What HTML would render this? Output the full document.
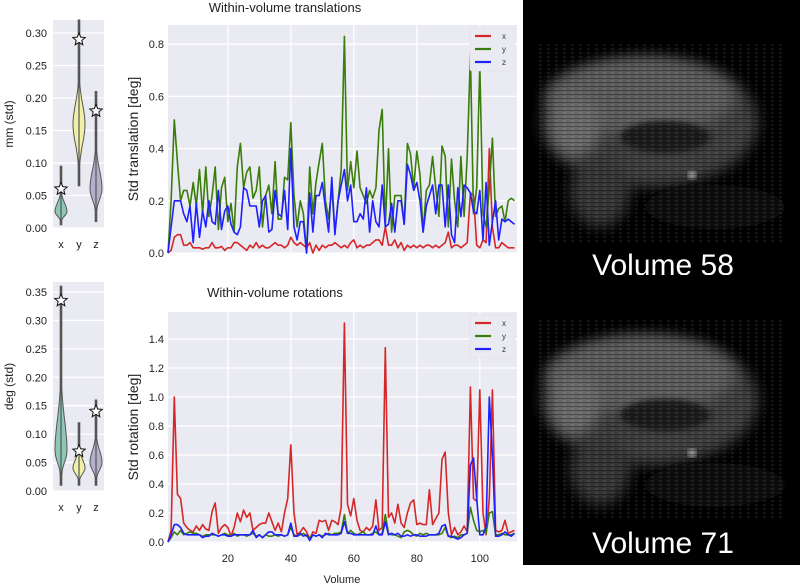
<!DOCTYPE html>
<html><head><meta charset="utf-8"><style>
body{margin:0;background:#fff;font-family:"Liberation Sans",sans-serif}
svg{display:block}
text{font-family:"Liberation Sans",sans-serif}
</style></head><body>
<svg id="fig" width="802" height="586" viewBox="0 0 802 586" xmlns="http://www.w3.org/2000/svg">
<defs>
<filter id="bl" x="-20%" y="-20%" width="140%" height="140%"><feGaussianBlur stdDeviation="7"/></filter>
<filter id="bl2"><feGaussianBlur stdDeviation="3"/></filter>
<pattern id="scan" width="8" height="4" patternUnits="userSpaceOnUse"><rect y="2" width="8" height="1" fill="#000" opacity="0.3"/><rect x="3" width="3" height="2" fill="#fff" opacity="0.08"/></pattern>
</defs>
<g id="root"></g>
</svg>
<script>
// ---- data ----
const volumes = Array.from({length:111},(_,i)=>i+1);
const transX = [0.0,0.01,0.06,0.07,0.07,0.03,0.03,0.04,0.02,0.02,
0.02,0.015,0.02,0.02,0.04,0.02,0.02,0.025,0.01,0.02,
0.02,0.04,0.04,0.03,0.02,0.01,0.03,0.02,0.04,0.02,
0.03,0.02,0.02,0.03,0.04,0.03,0.03,0.02,0.03,0.06,
0.04,0.03,0.04,0.03,0.02,0.04,0.0,0.03,0.01,0.03,
0.02,0.03,0.03,0.04,0.03,0.02,0.03,0.02,0.04,0.05,
0.02,0.03,0.02,0.03,0.03,0.04,0.05,0.05,0.03,0.1,
0.03,0.03,0.05,0.02,0.04,0.01,0.03,0.02,0.03,0.02,
0.03,0.02,0.03,0.03,0.02,0.03,0.02,0.03,0.04,0.08,
0.02,0.03,0.03,0.02,0.03,0.04,0.23,0.22,0.03,0.02,
0.05,0.04,0.4,0.1,0.02,0.02,0.04,0.03,0.02,0.02,0.02];
const transY = [0.0,0.2,0.51,0.35,0.2,0.24,0.24,0.18,0.27,0.18,
0.32,0.15,0.33,0.14,0.22,0.33,0.09,0.25,0.29,0.12,
0.19,0.08,0.33,0.42,0.25,0.31,0.33,0.21,0.24,0.33,
0.1,0.22,0.26,0.15,0.35,0.13,0.13,0.29,0.28,0.5,
0.22,0.1,0.2,0.15,0.0,0.33,0.15,0.27,0.35,0.42,
0.2,0.13,0.25,0.08,0.2,0.32,0.83,0.24,0.35,0.25,
0.39,0.25,0.22,0.19,0.24,0.21,0.25,0.47,0.55,0.1,
0.4,0.08,0.22,0.22,0.22,0.11,0.42,0.38,0.25,0.39,
0.3,0.08,0.24,0.26,0.37,0.25,0.14,0.41,0.37,0.1,
0.36,0.2,0.1,0.37,0.14,0.37,0.76,0.15,0.25,0.72,
0.15,0.1,0.25,0.44,0.14,0.17,0.18,0.12,0.2,0.21,0.2];
const transZ = [0.0,0.1,0.2,0.2,0.2,0.15,0.12,0.18,0.04,0.19,
0.06,0.16,0.1,0.2,0.12,0.11,0.24,0.09,0.16,0.18,
0.11,0.08,0.07,0.1,0.25,0.24,0.18,0.18,0.18,0.1,
0.2,0.22,0.08,0.09,0.24,0.15,0.14,0.24,0.09,0.4,
0.1,0.05,0.12,0.12,0.0,0.23,0.08,0.22,0.22,0.27,
0.17,0.08,0.29,0.07,0.2,0.26,0.32,0.2,0.26,0.12,
0.12,0.15,0.13,0.25,0.08,0.2,0.12,0.1,0.26,0.1,
0.11,0.19,0.08,0.2,0.2,0.11,0.34,0.3,0.24,0.27,
0.2,0.08,0.18,0.22,0.26,0.15,0.26,0.26,0.1,0.26,
0.07,0.04,0.25,0.14,0.26,0.25,0.23,0.16,0.15,0.24,
0.05,0.27,0.03,0.12,0.2,0.05,0.13,0.12,0.13,0.12,0.11];
const rotX = [0.0,0.08,1.0,0.33,0.3,0.13,0.1,0.08,0.07,0.11,
0.08,0.12,0.09,0.08,0.21,0.27,0.06,0.1,0.12,0.1,
0.04,0.1,0.2,0.14,0.22,0.17,0.2,0.08,0.1,0.12,
0.13,0.13,0.2,0.14,0.08,0.13,0.07,0.2,0.3,0.67,
0.2,0.05,0.07,0.1,0.07,0.02,0.07,0.06,0.15,0.14,
0.15,0.08,0.15,0.14,0.12,0.24,1.51,0.26,0.18,0.3,
0.15,0.08,0.07,0.1,0.08,0.11,0.29,0.08,0.1,1.34,
0.17,0.2,0.13,0.26,0.13,0.1,0.2,0.27,0.29,0.12,
0.13,0.12,0.12,0.36,0.12,0.16,0.2,0.57,0.62,0.2,
0.05,0.1,0.05,0.07,0.11,0.07,1.07,0.3,0.28,1.05,
0.2,0.05,0.3,1.05,0.08,0.07,0.08,0.15,0.06,0.07,0.08];
const rotY = [0.0,0.03,0.07,0.05,0.08,0.05,0.06,0.07,0.06,0.06,
0.05,0.04,0.05,0.05,0.05,0.05,0.04,0.05,0.06,0.05,
0.04,0.06,0.04,0.05,0.05,0.04,0.05,0.06,0.04,0.05,
0.03,0.05,0.04,0.04,0.05,0.04,0.05,0.04,0.05,0.1,
0.05,0.04,0.05,0.06,0.04,0.03,0.05,0.04,0.05,0.04,
0.05,0.06,0.05,0.06,0.06,0.07,0.19,0.06,0.08,0.06,
0.05,0.06,0.07,0.05,0.05,0.06,0.07,0.05,0.06,0.19,
0.06,0.05,0.05,0.04,0.03,0.07,0.08,0.07,0.05,0.04,
0.06,0.05,0.06,0.05,0.05,0.05,0.05,0.06,0.1,0.04,
0.03,0.04,0.03,0.05,0.05,0.06,0.24,0.15,0.08,0.07,
0.08,0.06,0.2,0.21,0.05,0.05,0.06,0.05,0.05,0.05,0.06];
const rotZ = [0.0,0.05,0.12,0.12,0.1,0.06,0.05,0.05,0.05,0.05,
0.05,0.03,0.04,0.04,0.06,0.05,0.04,0.05,0.05,0.04,
0.04,0.05,0.05,0.05,0.05,0.05,0.05,0.08,0.03,0.05,
0.03,0.05,0.07,0.07,0.05,0.05,0.05,0.04,0.05,0.13,
0.04,0.04,0.06,0.04,0.05,0.01,0.05,0.04,0.05,0.03,
0.06,0.05,0.05,0.05,0.05,0.06,0.14,0.06,0.06,0.05,
0.05,0.05,0.05,0.05,0.05,0.05,0.11,0.05,0.05,0.14,
0.05,0.06,0.05,0.06,0.04,0.04,0.05,0.04,0.05,0.05,
0.04,0.04,0.04,0.05,0.05,0.05,0.06,0.11,0.12,0.04,
0.04,0.03,0.02,0.03,0.05,0.06,0.53,0.58,0.3,0.05,
0.05,0.11,1.0,0.6,0.04,0.04,0.05,0.07,0.05,0.04,0.06];
const xTicks = [20,40,60,80,100];
const transTicks = [0.0,0.2,0.4,0.6,0.8];
const rotTicks = [0.0,0.2,0.4,0.6,0.8,1.0,1.2,1.4];
const seriesNames = ["x","y","z"];
// violin summary values
const vioTransStars = [0.06,0.29,0.18];
const vioTransMin = [0.005,0.065,0.01];
const vioTransMax = [0.095,0.32,0.21];
const vioTransMode = [0.025,0.16,0.06];
const vioRotStars = [0.335,0.07,0.14];
const vioRotMin = [0.01,0.01,0.01];
const vioRotMax = [0.36,0.12,0.16];
const vioRotMode = [0.07,0.04,0.05];
const vioTransTicks = [0.00,0.05,0.10,0.15,0.20,0.25,0.30];
const vioRotTicks = [0.00,0.05,0.10,0.15,0.20,0.25,0.30,0.35];

const NS="http://www.w3.org/2000/svg";
const root=document.getElementById('root');
function el(tag,attrs,parent,txt){const e=document.createElementNS(NS,tag);for(const k in attrs)e.setAttribute(k,attrs[k]);if(txt!==undefined)e.textContent=txt;(parent||root).appendChild(e);return e;}
const COLORS=["#d62728","#3a7d0a","#1f1fff"];

function lineChart(o){
  const g=el('g',{});
  
  
  const xs=v=>o.x0+(v-1)*(o.x1-o.x0)/(111.8-1);
  const ys=v=>o.yb-v*o.ppu;
  const bg=el('rect',{x:o.x0,y:o.yt,width:o.x1-o.x0,height:o.yb-o.yt,fill:'#eaeaf2'},g);
  
  
  xTicks.forEach(t=>{
    const l=el('line',{x1:xs(t),x2:xs(t),y1:o.yt,y2:o.yb,stroke:'#fff','stroke-width':1.3},g);
    
    
    if(o.xlabels){
      const tx=el('text',{x:xs(t),y:o.yb+20,'font-size':11,'text-anchor':'middle',fill:'#222'},g,String(t));
      
      
    }
  });
  o.ticks.forEach(t=>{
    const l=el('line',{x1:o.x0,x2:o.x1,y1:ys(t),y2:ys(t),stroke:'#fff','stroke-width':1.3},g);
    
    
    const tx=el('text',{x:o.x0-4,y:ys(t)+4,'font-size':11,'text-anchor':'end',fill:'#222'},g,t.toFixed(1));
    
    
  });
  o.series.forEach((s,i)=>{
    const d=s.map((v,j)=>(j?'L':'M')+xs(volumes[j]).toFixed(1)+','+ys(v).toFixed(1)).join('');
    const p=el('path',{d:d,fill:'none',stroke:COLORS[i],'stroke-width':1.6,'stroke-linejoin':'round'},g);
    
    
  });
  const lg=el('g',{},g);
  
  
  el('rect',{x:o.x1-47,y:o.yt+3,width:44,height:43,fill:'#eaeaf2',stroke:'#ddd','stroke-width':0.6,rx:2},lg);
  seriesNames.forEach((n,i)=>{
    const ly=o.yt+11+i*13;
    const ll=el('line',{x1:o.x1-42,x2:o.x1-26,y1:ly,y2:ly,stroke:COLORS[i],'stroke-width':2.2},lg);
    
    
    const lt=el('text',{x:o.x1-15,y:ly+3,'font-size':8,fill:'#333'},lg,n);
    
    
  });
  const yt=el('text',{transform:`translate(${o.x0-30},${(o.yt+o.yb)/2}) rotate(-90)`,'font-size':14,'text-anchor':'middle',fill:'#222'},g,o.ylabel);
  
  
  const tt=el('text',{x:o.titleX,y:o.titleY,'font-size':13,'text-anchor':'middle',fill:'#222'},g,o.title);
  
  
}
lineChart({name:'translation-chart',x0:168,x1:517,yt:25,yb:253,ppu:261,ticks:transTicks,series:[transX,transY,transZ],ylabel:'Std translation [deg]',title:'Within-volume translations',titleX:285,titleY:12,xlabels:false});
lineChart({name:'rotation-chart',x0:168,x1:517,yt:312,yb:542,ppu:145,ticks:rotTicks,series:[rotX,rotY,rotZ],ylabel:'Std rotation [deg]',title:'Within-volume rotations',titleX:275,titleY:297,xlabels:true});
const xl=el('text',{x:342,y:583,'font-size':11,'text-anchor':'middle',fill:'#222'},root,'Volume');



const VFILL=["#8fc7b6","#f0f0a8","#b4b0cc"];
function star(cx,cy,r){let d='';for(let i=0;i<10;i++){const a=-Math.PI/2+i*Math.PI/5;const rr=i%2?r*0.45:r;d+=(i?'L':'M')+(cx+rr*Math.cos(a)).toFixed(1)+','+(cy+rr*Math.sin(a)).toFixed(1);}return d+'Z';}
function violins(o){
  const g=el('g',{});
  
  
  const ys=v=>o.yb-v*o.ppu;
  const bg=el('rect',{x:53,y:o.yt,width:51,height:o.yb-o.yt,fill:'#eaeaf2'},g);
  
  
  o.ticks.forEach(t=>{
    const l=el('line',{x1:53,x2:104,y1:ys(t),y2:ys(t),stroke:'#fff','stroke-width':1.3},g);
    
    
    const tx=el('text',{x:47,y:ys(t)+4,'font-size':11,'text-anchor':'end',fill:'#222'},g,t.toFixed(2));
    
    
  });
  const cxs=[61,79,96];
  seriesNames.forEach((n,i)=>{
    const cx=cxs[i],lo=o.min[i],hi=o.max[i],md=o.mode[i];
    const N=40;let L=[],R=[];
    for(let k=0;k<=N;k++){const v=lo+(hi-lo)*k/N;const s=v<md?(md-v)/(md-lo+1e-6):(v-md)/(hi-md);
      const w=Math.max(0.8,6*Math.exp(-s*s*(v<md?5:14)));const y=ys(v);R.push([cx+w,y]);L.push([cx-w,y]);}
    const d='M'+R.map(p=>p[0].toFixed(1)+','+p[1].toFixed(1)).join('L')+'L'+L.reverse().map(p=>p[0].toFixed(1)+','+p[1].toFixed(1)).join('L')+'Z';
    const v=el('path',{d:d,fill:VFILL[i],stroke:'#555','stroke-width':1},g);
    
    
    el('line',{x1:cx,x2:cx,y1:ys(hi),y2:ys(lo),stroke:'#555','stroke-width':1.2},g);
    const s=el('path',{d:star(cx,ys(o.stars[i]),6.5),fill:'#fff',stroke:'#111','stroke-width':1},g);
    
    
    const lb=el('text',{x:cx,y:o.yb+20,'font-size':11,'text-anchor':'middle',fill:'#222'},g,n);
    
    
  });
  const yt=el('text',{transform:`translate(13,${(o.yt+o.yb)/2}) rotate(-90)`,'font-size':12,'text-anchor':'middle',fill:'#222'},g,o.ylabel);
  
  
}
violins({name:'translation-violins',yt:20,yb:228,ppu:650,ticks:vioTransTicks,stars:vioTransStars,min:vioTransMin,max:vioTransMax,mode:vioTransMode,ylabel:'mm (std)'});
violins({name:'rotation-violins',yt:282,yb:491,ppu:568.6,ticks:vioRotTicks,stars:vioRotStars,min:vioRotMin,max:vioRotMax,mode:vioRotMode,ylabel:'deg (std)'});

// brain images
function brain(y0,label,name){
  const g=el('g',{});
  
  
  el('rect',{x:523,y:y0,width:277,height:290,fill:'#000'},g);
  el('ellipse',{cx:650,cy:y0+125,rx:108,ry:65,fill:'#3e3e3e',filter:'url(#bl)'},g);
  el('ellipse',{cx:640,cy:y0+100,rx:95,ry:38,fill:'#5c5c5c',filter:'url(#bl)'},g);
  el('ellipse',{cx:575,cy:y0+130,rx:25,ry:30,fill:'#6a6a6a',filter:'url(#bl)'},g);
  el('ellipse',{cx:600,cy:y0+195,rx:30,ry:35,fill:'#353535',filter:'url(#bl)'},g);
  el('ellipse',{cx:665,cy:y0+140,rx:45,ry:16,fill:'#1e1e1e',filter:'url(#bl2)'},g);
  el('ellipse',{cx:715,cy:y0+210,rx:70,ry:22,fill:'#0a0a0a',filter:'url(#bl2)'},g);
  el('circle',{cx:692,cy:y0+178,r:4,fill:'#bbb',filter:'url(#bl2)'},g);
  el('rect',{x:535,y:y0+45,width:250,height:200,fill:'url(#scan)'},g);
  const t=el('text',{x:663,y:y0+278,'font-size':30,'text-anchor':'middle',fill:'#fff'},g,label);
  
  
}
brain(-3,'Volume 58','brain-volume-58');
brain(275,'Volume 71','brain-volume-71');
</script>
</body></html>
